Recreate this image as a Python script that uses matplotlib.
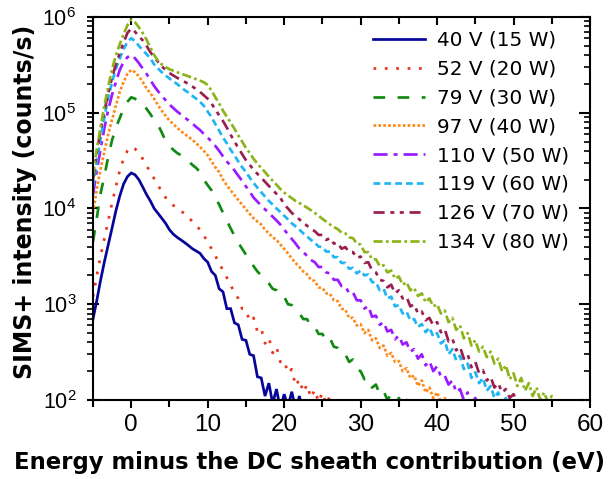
import numpy as np
import matplotlib
matplotlib.use("Agg")
import matplotlib.pyplot as plt

plt.rcParams['font.family'] = ['Liberation Sans', 'DejaVu Sans']
plt.rcParams['mathtext.fontset'] = 'custom'
plt.rcParams['mathtext.rm'] = 'Liberation Sans'
plt.rcParams['mathtext.it'] = 'Liberation Sans:italic'
plt.rcParams['mathtext.bf'] = 'Liberation Sans:bold'

# energy grid (eV), 0.5 eV sampling
energy = np.arange(-5.0, 56.5, 0.5)

labels = ["40 V (15 W)", "52 V (20 W)", "79 V (30 W)", "97 V (40 W)",
          "110 V (50 W)", "119 V (60 W)", "126 V (70 W)", "134 V (80 W)"]

counts_40V = [700, 1100, 1800, 2800, 4200, 6300, 9500, 13500, 18000, 21500,
              23500, 22500, 20000, 16800, 14000, 12000, 10000, 8900, 7900, 7000,
              6000, 5400, 5000, 4700, 4400, 4100, 3800, 3600, 3400, 3000,
              2750, 2200, 2000, 1450, 1350, 900, 900, 640, 610, 430,
              420, 300, 290, 175, 170, 110, 150, 92, 130, 80,
              115, 86, 122, 80, 110, 70]

counts_52V = [1200, 2000, 3200, 4900, 7500, 11500, 17000, 25000, 33000, 40000,
              44000, 42000, 38000, 33000, 28000, 24000, 20500, 17500, 15000, 13000,
              11800, 10800, 10000, 9400, 8800, 8100, 7300, 6600, 6000, 5200,
              4500, 3800, 3200, 2700, 2250, 1900, 1600, 1300, 1150, 900,
              880, 660, 720, 520, 560, 390, 450, 310, 360, 250,
              260, 190, 210, 140, 165, 120, 145, 105, 128, 95,
              120, 90, 110, 85, 80]

counts_79V = [4500, 8000, 14500, 22000, 35000, 52000, 70000, 88000, 110000, 130000,
              145000, 140000, 132000, 125000, 110000, 97000, 84000, 75000, 62000, 51000,
              45000, 41000, 38000, 36000, 33000, 31000, 28500, 26500, 24000, 20000,
              17500, 15500, 13000, 11000, 9000, 7500, 6200, 5200, 4400, 3800,
              3300, 2900, 2500, 2200, 2000, 1800, 1650, 1450, 1400, 1200,
              1200, 1000, 980, 860, 800, 700, 700, 580, 580, 490,
              490, 410, 440, 360, 350, 300, 300, 250, 265, 210,
              200, 165, 170, 135, 145, 115, 125, 100, 115, 90,
              105, 85, 100, 80, 95, 75]

counts_97V = [9000, 16000, 26000, 40000, 60000, 85000, 120000, 165000, 210000, 255000,
              280000, 265000, 240000, 210000, 180000, 160000, 140000, 120000, 105000, 93000,
              83000, 76000, 70000, 64000, 60000, 56000, 52000, 48000, 44000, 40000,
              36000, 31000, 27000, 24000, 20000, 17500, 15500, 13800, 12300, 11000,
              9800, 8800, 7900, 7300, 6800, 6000, 5500, 5000, 4700, 4200,
              3800, 3400, 3000, 2700, 2450, 2200, 2050, 1800, 1750, 1500,
              1480, 1300, 1280, 1100, 1080, 900, 880, 720, 720, 600,
              620, 500, 540, 420, 440, 350, 370, 290, 310, 250,
              255, 200, 215, 170, 180, 140, 160, 120, 135, 105,
              120, 95, 105, 80]

counts_110V = [14000, 25000, 42000, 70000, 108000, 155000, 210000, 280000, 340000, 380000,
               400000, 370000, 330000, 290000, 255000, 220000, 190000, 168000, 150000, 135000,
               122000, 112000, 103000, 96000, 89000, 83000, 77000, 71000, 66000, 60000,
               55000, 50000, 45000, 40000, 35000, 31000, 28000, 25000, 22000, 19500,
               17000, 15000, 13000, 11800, 10700, 9800, 9000, 8200, 7500, 6800,
               6000, 5400, 4800, 4300, 3800, 3500, 3200, 2900, 2750, 2450,
               2450, 2150, 2100, 1800, 1800, 1550, 1550, 1300, 1330, 1100,
               1100, 900, 960, 740, 760, 610, 650, 520, 540, 430,
               470, 380, 400, 320, 340, 270, 300, 230, 255, 200,
               225, 175, 180, 145, 160, 120, 130, 100, 120, 90,
               105, 80]

counts_119V = [17000, 31000, 54000, 90000, 145000, 210000, 290000, 370000, 460000, 550000,
               600000, 560000, 500000, 450000, 410000, 370000, 320000, 290000, 265000, 245000,
               228000, 212000, 200000, 185000, 172000, 162000, 150000, 140000, 130000, 118000,
               103000, 90000, 76000, 65000, 55000, 48000, 41000, 36000, 31000, 27000,
               24000, 21000, 18500, 16500, 14800, 13300, 12000, 11000, 10000, 9200,
               8400, 7700, 7000, 6500, 6000, 5500, 5100, 4700, 4400, 4000,
               3950, 3550, 3550, 3100, 3100, 2700, 2700, 2350, 2400, 2100,
               2250, 2000, 2050, 1700, 1700, 1400, 1450, 1150, 1200, 950,
               980, 800, 840, 680, 700, 580, 620, 510, 570, 460,
               500, 390, 420, 300, 340, 260, 290, 210, 240, 170,
               195, 150, 170, 125, 140, 105, 120, 90, 105, 80]

counts_126V = [20000, 38000, 66000, 105000, 160000, 235000, 320000, 420000, 540000, 680000,
               760000, 700000, 630000, 570000, 500000, 430000, 380000, 340000, 305000, 280000,
               260000, 245000, 232000, 220000, 210000, 200000, 188000, 176000, 165000, 152000,
               140000, 125000, 108000, 94000, 82000, 70000, 59000, 50000, 43000, 37000,
               32000, 28500, 25500, 23000, 21000, 19000, 17200, 15600, 14200, 13000,
               11000, 10000, 9000, 8300, 7700, 7100, 6600, 6100, 5800, 5300,
               5300, 4700, 4900, 4300, 4400, 3800, 3950, 3500, 3500, 3050,
               3150, 2700, 2750, 2250, 2150, 1800, 1750, 1500, 1600, 1300,
               1400, 1150, 1200, 950, 1000, 800, 840, 680, 720, 600,
               650, 510, 550, 410, 440, 330, 360, 270, 300, 220,
               250, 190, 205, 160, 175, 135, 150, 120, 130, 105,
               115, 95, 105, 85, 80]

counts_134V = [22000, 42000, 72000, 120000, 190000, 285000, 400000, 520000, 660000, 820000,
               940000, 880000, 780000, 680000, 580000, 480000, 400000, 350000, 320000, 300000,
               285000, 275000, 265000, 256000, 248000, 240000, 232000, 224000, 216000, 208000,
               195000, 170000, 145000, 125000, 105000, 91000, 79000, 68000, 58000, 50000,
               43000, 38000, 33000, 29500, 26500, 24000, 21500, 19500, 17700, 16000,
               14700, 13700, 12800, 12000, 11400, 10800, 10200, 9600, 9000, 8400,
               7800, 7300, 6800, 6400, 6100, 5600, 5500, 5000, 4900, 4300,
               4200, 3500, 3500, 2950, 2950, 2500, 2550, 2150, 2250, 1850,
               1950, 1600, 1700, 1400, 1480, 1220, 1300, 1050, 1150, 950,
               1000, 800, 860, 650, 720, 540, 600, 440, 500, 370,
               420, 320, 360, 280, 320, 240, 270, 200, 230, 165,
               190, 140, 170, 125, 150, 110, 135, 100, 120, 95,
               110, 85, 80]

series = [counts_40V, counts_52V, counts_79V, counts_97V,
          counts_110V, counts_119V, counts_126V, counts_134V]

colors = ['#05059A', '#E8341C', '#118A11', '#FF8A1A',
          '#9B1AFF', '#1FB4F5', '#9A1F50', '#8CB41A']
styles = ['-', (0, (1, 3.2)), (0, (4.3, 4.6)), (0, (1, 0.8)),
          (0, (5.2, 2.2, 1.5, 2.2)), (0, (2.5, 1.5)),
          (0, (4.1, 2.1, 1.5, 2.0, 1.5, 2.1)), (0, (3.4, 1.2, 1.0, 1.2))]

fig = plt.figure(figsize=(6.08, 4.79), dpi=100)
ax = fig.add_axes([93/608, (479-400)/479, 497/608, 383/479])

for vals, c, ls, lab in zip(series, colors, styles, labels):
    ax.plot(energy[:len(vals)], vals, color=c, linestyle=ls, lw=1.95,
            label=lab, dash_capstyle='butt', solid_joinstyle='miter')

ax.set_yscale('log')
ax.set_xlim(-5, 60)
ax.set_ylim(1e2, 1e6)
ax.set_xticks([0, 10, 20, 30, 40, 50, 60])
ax.set_xticks([-5, 5, 15, 25, 35, 45, 55], minor=True)

for s in ax.spines.values():
    s.set_linewidth(1.5)

ax.tick_params(axis='x', which='major', direction='out', length=6, width=1.5,
               labelsize=17.5, top=True, pad=4)
ax.tick_params(axis='x', which='minor', direction='out', length=5, width=1.5, top=True)
ax.tick_params(axis='y', which='major', direction='inout', length=8, width=1.5,
               labelsize=15.5, right=True, pad=8)
ax.tick_params(axis='y', which='minor', direction='out', length=4, width=1.2, right=True)

# mirrored top/right ticks drawn inward
for t in ax.xaxis.get_major_ticks() + ax.xaxis.get_minor_ticks():
    t.tick2line.set_marker(3)
for t in ax.yaxis.get_major_ticks():
    t.tick2line.set_marker(0)
for t in ax.yaxis.get_minor_ticks():
    t.tick2line.set_marker(0)

ax.set_xlabel('Energy minus the DC sheath contribution (eV)', fontsize=16.4,
              fontweight='bold', family='DejaVu Sans', labelpad=11)
ax.xaxis.label.set_x(0.4366)
ax.set_ylabel('SIMS+ intensity (counts/s)', fontsize=17, fontweight='bold',
              family='DejaVu Sans', labelpad=4)
ax.yaxis.label.set_y(0.517)

leg = ax.legend(loc='upper left', bbox_to_anchor=(373/608, 1 - 31/479),
                bbox_transform=fig.transFigure, frameon=False,
                prop={'family': 'DejaVu Sans', 'size': 14.4},
                handlelength=2.6, labelspacing=0.49,
                handletextpad=0.6, borderaxespad=0, borderpad=0)

fig.savefig('out.png', dpi=100)
